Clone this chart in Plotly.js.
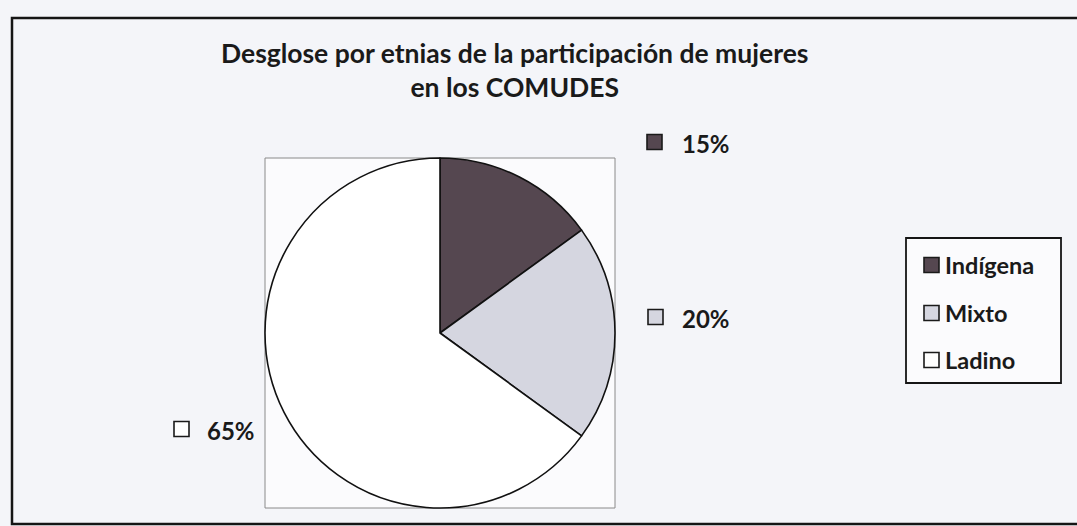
<!DOCTYPE html>
<html>
<head>
<meta charset="utf-8">
<script src="https://cdn.plot.ly/plotly-3.0.1.min.js"></script>
<style>
  html, body { margin: 0; padding: 0; background: #f4f5f9; }
  #chart { width: 1077px; height: 526px; }
</style>
</head>
<body>
<div id="chart"></div>
<script>
// ---- data ----
const categories = ['Indígena', 'Mixto', 'Ladino'];
const shares = [15, 20, 65];
const titleLines = ['Desglose por etnias de la participación de mujeres', 'en los COMUDES'];

// ---- style ----
const sliceColors = ['#554750', '#d5d6e0', '#ffffff'];
const W = 1077, H = 526;
const FONT = 'Lato, "Open Sans", sans-serif';
const fx = px => px / W;
const fy = py => 1 - py / H;

// pie box in pixels
const box = {x0: 265, x1: 615, y0: 158, y1: 508};

const trace = {
  type: 'pie',
  labels: categories,
  values: shares,
  sort: false,
  direction: 'clockwise',
  rotation: 0,
  textinfo: 'none',
  hoverinfo: 'label+percent',
  showlegend: false,
  marker: { colors: sliceColors, line: { color: '#111111', width: 1.6 } },
  domain: { x: [fx(box.x0), fx(box.x1)], y: [fy(box.y1), fy(box.y0)] }
};

const shapes = [];
const annotations = [];

// outer border
shapes.push({type: 'rect', xref: 'paper', yref: 'paper',
  x0: fx(12), x1: fx(1090), y0: fy(524), y1: fy(18),
  line: {color: '#151515', width: 2.5}, fillcolor: 'rgba(0,0,0,0)', layer: 'below'});
// plot area box
shapes.push({type: 'rect', xref: 'paper', yref: 'paper',
  x0: fx(box.x0), x1: fx(box.x1), y0: fy(box.y1), y1: fy(box.y0),
  line: {color: '#8a8a8a', width: 1}, fillcolor: 'rgba(255,255,255,0.6)', layer: 'below'});

// data labels (square + percent)
const labelPos = [ {sx: 647, sy: 142, tx: 680}, {sx: 648, sy: 317, tx: 680}, {sx: 174, sy: 429, tx: 205} ];
shares.forEach((v, i) => {
  const p = labelPos[i];
  const s = 15;
  shapes.push({type: 'rect', xref: 'paper', yref: 'paper',
    x0: fx(p.sx), x1: fx(p.sx + s), y0: fy(p.sy + s/2), y1: fy(p.sy - s/2),
    line: {color: '#1a1a1a', width: 1.6}, fillcolor: sliceColors[i]});
  annotations.push({xref: 'paper', yref: 'paper', x: fx(p.tx), y: fy(p.sy + 1),
    xanchor: 'left', yanchor: 'middle', showarrow: false,
    text: '<b>' + v + '%</b>', font: {family: FONT, size: 24, color: '#1a1a1a'}});
});

// legend (drawn manually)
shapes.push({type: 'rect', xref: 'paper', yref: 'paper',
  x0: fx(906), x1: fx(1061), y0: fy(383), y1: fy(238),
  line: {color: '#151515', width: 1.8}, fillcolor: '#fbfbfd'});
const legendY = [265, 313, 360];
categories.forEach((c, i) => {
  const y = legendY[i];
  shapes.push({type: 'rect', xref: 'paper', yref: 'paper',
    x0: fx(924), x1: fx(939), y0: fy(y + 7.5), y1: fy(y - 7.5),
    line: {color: '#1a1a1a', width: 1.6}, fillcolor: sliceColors[i]});
  annotations.push({xref: 'paper', yref: 'paper', x: fx(943), y: fy(y),
    xanchor: 'left', yanchor: 'middle', showarrow: false,
    text: '<b>' + c + '</b>', font: {family: FONT, size: 23.5, color: '#1a1a1a'}});
});

// title
annotations.push({xref: 'paper', yref: 'paper', x: fx(514), y: fy(70),
  xanchor: 'center', yanchor: 'middle', showarrow: false,
  text: '<b>' + titleLines.join('<br>') + '</b>',
  font: {family: FONT, size: 26.5, color: '#1a1a1a'}});

const layout = {
  width: W, height: H,
  margin: {l: 0, r: 0, t: 0, b: 0},
  paper_bgcolor: '#f4f5f9',
  plot_bgcolor: '#f4f5f9',
  showlegend: false,
  shapes: shapes,
  annotations: annotations
};

Plotly.newPlot('chart', [trace], layout, {displayModeBar: false, staticPlot: true});
</script>
</body>
</html>
